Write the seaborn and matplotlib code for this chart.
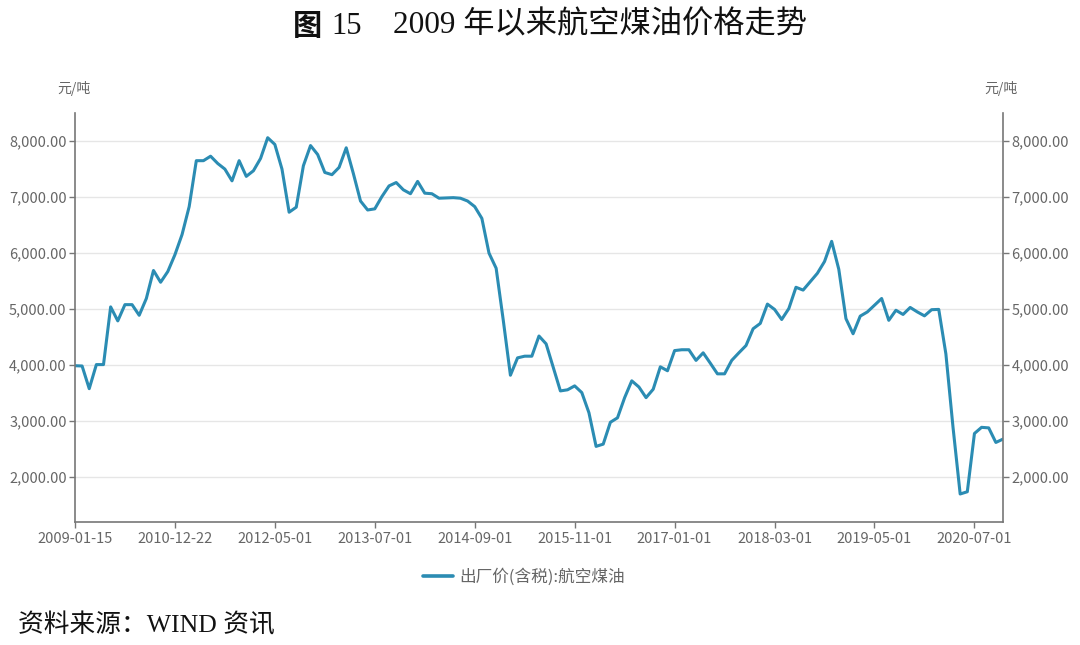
import numpy as np
import pandas as pd
import matplotlib
matplotlib.use("Agg")
import matplotlib.pyplot as plt
import seaborn as sns
from matplotlib.ticker import FuncFormatter

# monthly ex-factory price (tax incl.), yuan/ton
price = [
    3990, 3985, 3580, 4010, 4010, 5040, 4790, 5080, 5080, 4890,
    5190, 5690, 5480, 5670, 5970, 6330, 6830, 7650, 7650, 7730,
    7600, 7500, 7290, 7650, 7370, 7470, 7690, 8060, 7940, 7500,
    6730, 6820, 7560, 7920, 7760, 7440, 7400, 7530, 7880, 7420,
    6930, 6770, 6790, 7010, 7200, 7260, 7130, 7060, 7280, 7070,
    7060, 6980, 6985, 6990, 6980, 6930, 6830, 6620, 6000, 5730,
    4800, 3820, 4130, 4160, 4160, 4520, 4380, 3960, 3540, 3560,
    3630, 3510, 3150, 2550, 2590, 2980, 3060, 3420, 3720, 3610,
    3420, 3570, 3970, 3900, 4260, 4275, 4275, 4085, 4220, 4035,
    3845, 3845, 4085, 4220, 4350, 4650, 4745, 5090, 4995, 4815,
    5010, 5390, 5340, 5490, 5640, 5850, 6210, 5710, 4830, 4560,
    4875, 4950, 5070, 5190, 4800, 4980, 4905, 5030, 4950, 4880,
    4990, 4995, 4200, 2890, 1700, 1740, 2780, 2890, 2880, 2620,
    2680,
]
tick_labels = ["2009-01-15", "2010-12-22", "2012-05-01", "2013-07-01",
               "2014-09-01", "2015-11-01", "2017-01-01", "2018-03-01",
               "2019-05-01", "2020-07-01"]
y_ticks = [2000, 3000, 4000, 5000, 6000, 7000, 8000]
series_name = "出厂价(含税):航空煤油"

sns.set_theme(style="white")
plt.rcParams['font.family'] = ['Noto Sans CJK SC', 'DejaVu Sans']

df = pd.DataFrame({"idx": np.arange(len(price)), "price": price})

fig = plt.figure(figsize=(10.8, 6.45), dpi=100)
ax = fig.add_axes([0.0694, 0.1907, 0.8593, 0.634])

line_color = "#2B8CB3"
grey = "#666666"
sns.lineplot(data=df, x="idx", y="price", ax=ax, color=line_color,
             linewidth=2.2, label=series_name, legend=False)

ax.set_xlim(0, len(price) - 1)
ax.set_ylim(1200, 8500)
ax.set_xticks(np.arange(0, 14 * len(tick_labels), 14))
ax.set_xticklabels(tick_labels)
ax.set_yticks(y_ticks)
ax.yaxis.set_major_formatter(FuncFormatter(lambda v, p: f"{v:,.2f}"))
ax.set_xlabel("")
ax.set_ylabel("")

ax.grid(axis="y", color="#e6e6e6", linewidth=1)
ax.grid(axis="x", visible=False)
for side in ["left", "right", "bottom"]:
    ax.spines[side].set_visible(True)
    ax.spines[side].set_color("#777777")
    ax.spines[side].set_linewidth(1.2)
ax.spines["top"].set_visible(False)

ax.tick_params(axis="both", which="major", labelsize=10.5, labelcolor=grey,
               color="#777777", length=4, width=1, direction="out")
ax.tick_params(axis="y", left=True, right=True, labelleft=True,
               labelright=True, pad=2)
ax.tick_params(axis="x", bottom=True, pad=3)

# unit labels
fig.text(74 / 1080, 1 - 88 / 645, "元/吨", fontsize=10, color=grey,
         ha="center", va="center")
fig.text(1001 / 1080, 1 - 88 / 645, "元/吨", fontsize=10, color=grey,
         ha="center", va="center")

# legend
handles = [plt.Line2D([], [], color=line_color, linewidth=2.6)]
fig.legend(handles, [series_name], loc="center",
           bbox_to_anchor=(524 / 1080, 1 - 577 / 645), frameon=False,
           fontsize=12, labelcolor=grey, handlelength=1.8, handletextpad=0.4)

# title and source
serif_cjk = ['Liberation Serif', 'Noto Sans CJK SC']
fig.text(293 / 1080, 1 - 26 / 645, "图", fontsize=21, fontweight="bold",
         family=['Noto Sans CJK SC'], ha="left", va="center", color="#111111")
fig.text(331 / 1080, 1 - 26 / 645, "15", fontsize=22,
         family=serif_cjk, ha="left", va="center", color="#111111")
fig.text(393 / 1080, 1 - 26 / 645, "2009 年以来航空煤油价格走势", fontsize=22.5,
         family=serif_cjk, ha="left", va="center", color="#111111")
fig.text(18 / 1080, 1 - 625 / 645, "资料来源：WIND 资讯", fontsize=18.5,
         family=serif_cjk, ha="left", va="center", color="#111111")

fig.savefig("out.png", dpi=100)
